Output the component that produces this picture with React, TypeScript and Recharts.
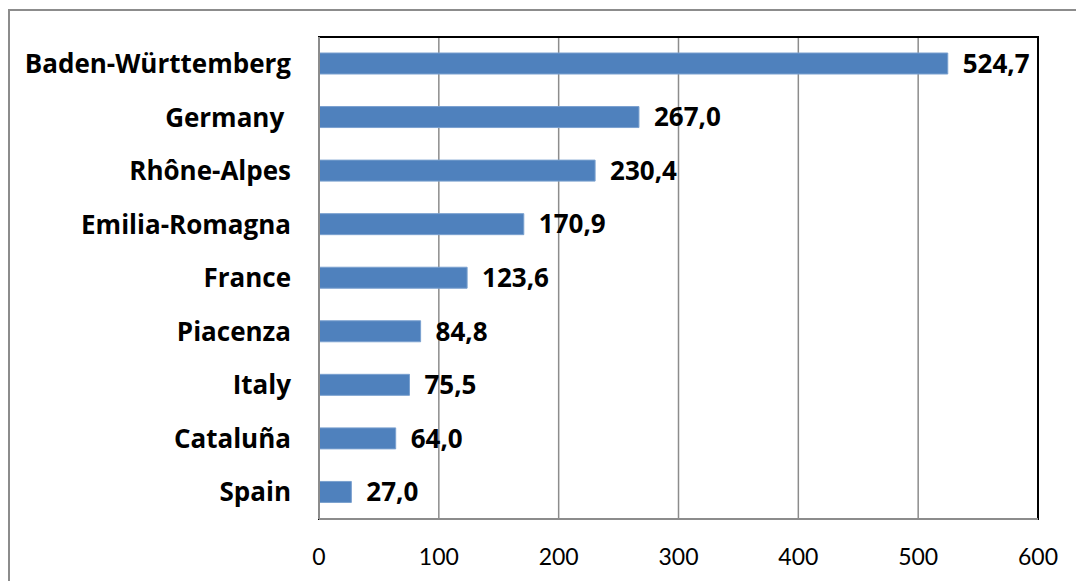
import { BarChart, Bar, XAxis, YAxis, CartesianGrid, LabelList, ReferenceArea } from "recharts";

const regions = [
  "Baden-Württemberg",
  "Germany\u00a0",
  "Rhône-Alpes",
  "Emilia-Romagna",
  "France",
  "Piacenza",
  "Italy",
  "Cataluña",
  "Spain",
];
const values = [524.7, 267.0, 230.4, 170.9, 123.6, 84.8, 75.5, 64.0, 27.0];
const xTicks = [0, 100, 200, 300, 400, 500, 600];

const data = regions.map((name, i) => ({ name, value: values[i] }));

const FONT = "Lato, 'Open Sans', sans-serif";
const BOLD_FONT = "'Open Sans', Lato, sans-serif";

// format numbers like the original: one decimal, comma separator
const fmt = (v: any) => Number(v).toFixed(1).replace(".", ",");

export default function App() {
  return (
    <div style={{ position: "absolute", left: 0, top: 0, width: 1076, height: 581, overflow: "hidden", background: "#fff" }}>
      <div
        style={{
          position: "absolute",
          left: 8,
          top: 9,
          width: 1100,
          height: 620,
          border: "2px solid #8c8c8c",
          pointerEvents: "none",
        }}
      />
      <BarChart
        width={1076}
        height={581}
        data={data}
        layout="vertical"
        margin={{ top: 37, right: 38, bottom: 22, left: 0 }}
        style={{ position: "absolute", left: 0, top: 0, fontFamily: FONT }}
      >
        <ReferenceArea x1={0} x2={600} fill="none" stroke="#000" strokeWidth={2} ifOverflow="visible" />
        <CartesianGrid horizontal={false} stroke="#8c8c8c" strokeWidth={1.5} />
        <XAxis
          type="number"
          domain={[0, 600]}
          ticks={xTicks}
          height={40}
          tickLine={false}
          axisLine={{ stroke: "#8c8c8c", strokeWidth: 2 }}
          tick={{ fill: "#000", fontSize: 23, fontFamily: FONT }}
          tickMargin={24}
        />
        <YAxis
          type="category"
          dataKey="name"
          width={319}
          tickLine={false}
          axisLine={{ stroke: "#8c8c8c", strokeWidth: 2 }}
          tick={{ fill: "#000", fontSize: 26, fontWeight: 700, fontFamily: BOLD_FONT }}
          tickMargin={22}
        />
        <Bar dataKey="value" fill="#4f81bd" stroke="#7aa0cf" strokeWidth={1} barSize={21} isAnimationActive={false}>
          <LabelList
            dataKey="value"
            position="right"
            offset={15}
            formatter={fmt}
            style={{ fill: "#000", fontSize: 26, fontWeight: 700, fontFamily: BOLD_FONT }}
          />
        </Bar>
      </BarChart>
    </div>
  );
}
